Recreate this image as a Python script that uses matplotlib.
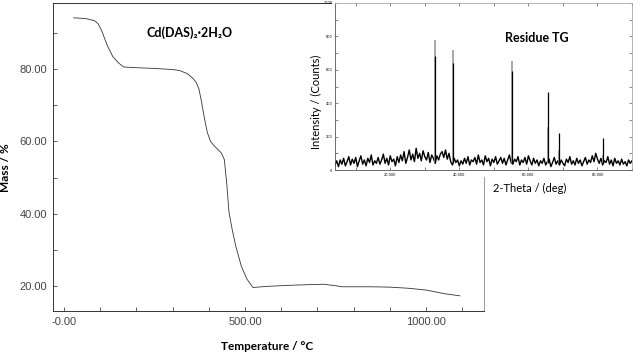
import numpy as np
import matplotlib
matplotlib.use("Agg")
import matplotlib.pyplot as plt
from matplotlib.patches import Rectangle
from matplotlib.ticker import MultipleLocator, FixedLocator

# TG curve
temp = [27, 60, 85, 95, 105, 120, 135, 150, 165, 200, 250, 300, 320, 340, 355, 365,
        373, 380, 388, 396, 405, 415, 425, 435, 443, 447, 450, 456, 465, 475, 490,
        505, 522, 560, 620, 680, 717, 750, 767, 850, 900, 950, 1000, 1050, 1093]
mass = [94.2, 94.0, 93.4, 92.5, 90.5, 86.5, 83.5, 81.8, 80.6, 80.4, 80.2, 79.9, 79.6,
        78.8, 77.6, 76.4, 74.5, 71.0, 66.5, 62.5, 60.0, 58.8, 57.8, 56.8, 55.0, 51.0,
        48.0, 40.3, 35.5, 30.9, 25.5, 22.0, 19.6, 19.9, 20.2, 20.4, 20.5, 20.1, 19.8,
        19.8, 19.7, 19.4, 18.9, 17.9, 17.3]

# XRD of the residue
theta = np.arange(4.0, 90.01, 0.5)
counts = [30, 55, 20, 60, 35, 70, 25, 50, 80, 30, 65, 40, 75,
          20, 55, 85, 35, 60, 25, 70, 45, 90, 30, 55, 40,
          75, 35, 60, 95, 40, 70, 30, 85, 50, 65, 25, 80,
          45, 90, 55, 110, 40, 75, 120, 60, 95, 50, 130, 70,
          100, 55, 115, 80, 60, 105, 45, 90,
          70, 40, 85, 60, 95, 110, 75, 120,
          65, 100, 50, 30, 70, 45, 60, 25,
          55, 35, 70, 40, 80, 30, 60, 50, 75, 35, 90, 45,
          60, 30, 85, 50, 70, 25, 65, 45, 80, 35, 55, 75,
          40, 70, 30, 60, 90, 45, 35, 65, 50, 80, 30, 60,
          45, 75, 35, 85, 55, 30, 70, 40, 60, 25, 55, 40,
          70, 30, 50, 65, 20, 45, 75, 35, 55, 30, 60, 40,
          25, 65, 45, 80, 35, 55, 30, 70, 40, 60, 25, 50,
          75, 35, 60, 45, 85, 50, 100, 65, 40, 70, 30, 55,
          45, 80, 35, 60, 25, 70, 40, 55, 30, 65, 35, 50,
          25, 60, 40, 55]
peak_pos = [33.0, 38.2, 55.2, 65.6, 69.0, 81.6]
peak_gray = [780, 720, 650, 260, 120, 90]
peak_black = [680, 640, 590, 468, 220, 190]

fig = plt.figure(figsize=(6.33, 3.6), dpi=100)

ax = fig.add_axes([53/633, 1-311/360, 431/633, 308/360])
ax.plot(temp, mass, color="#333333", lw=0.6)
ax.set_xlim(-30, 1160)
ax.set_ylim(13.1, 98.3)
ax.xaxis.set_major_locator(FixedLocator([0, 500, 1000]))
ax.set_xticklabels(["-0.00", "500.00", "1000.00"])
ax.xaxis.set_minor_locator(MultipleLocator(100))
ax.yaxis.set_major_locator(FixedLocator([20, 40, 60, 80]))
ax.set_yticklabels(["20.00", "40.00", "60.00", "80.00"])
ax.yaxis.set_minor_locator(MultipleLocator(10))
ax.tick_params(which="both", direction="in", length=3, width=0.6, color="#444444",
               labelsize=8, labelcolor="#444444", pad=4, labelfontfamily="Liberation Sans")
for s in ax.spines.values():
    s.set_linewidth(0.7)
    s.set_color("#333333")
ax.spines["right"].set_color("#999999")
ax.set_xlabel("Temperature / °C", family="Lato", weight="bold", fontsize=8.5)
ax.xaxis.set_label_coords((267-53)/431, -(341-311)/308)
ax.set_ylabel("Mass / %", family="Lato", weight="bold", fontsize=8.5)
ax.yaxis.set_label_coords(-(53-11)/431, 0.464)
ax.text(0.316, 0.903, "Cd(DAS)₂·2H₂O", transform=ax.transAxes, fontsize=9,
        family=["Lato", "Noto Sans", "DejaVu Sans"], weight="bold", ha="center", va="center")

# white cover under the inset picture
fig.add_artist(Rectangle((332/633, 1-177/360), 1-332/633, 177/360, transform=fig.transFigure,
                         facecolor="white", edgecolor="none", zorder=1))

ins = fig.add_axes([335/633, 1-170/360, 297/633, 167/360], zorder=2)
ins.plot(theta, counts, color="black", lw=1.0)
ins.vlines(peak_pos, 40, peak_gray, color="#999999", lw=1.2)
ins.vlines(peak_pos, 40, peak_black, color="black", lw=0.9)
ins.set_xlim(4, 90)
ins.set_ylim(0, 1000)
ins.set_xticks([20, 40, 60, 80])
ins.set_xticklabels(["20.000", "40.000", "60.000", "80.000"])
ins.xaxis.set_minor_locator(MultipleLocator(10))
ins.yaxis.set_major_locator(MultipleLocator(200))
ins.yaxis.set_minor_locator(MultipleLocator(100))
ins.tick_params(which="both", direction="in", length=2, width=0.5, labelsize=2.5,
                pad=2, top=True, right=True, color="#555555")
for s in ins.spines.values():
    s.set_linewidth(0.6)
    s.set_color("#555555")
ins.spines["top"].set_color("#aaaaaa")
ins.spines["right"].set_color("#aaaaaa")
ins.set_xlabel("2-Theta / (deg)", family="Lato", fontsize=8)
ins.xaxis.set_label_coords((530-335)/297, -(183-170)/167)
ins.set_ylabel("Intensity / (Counts)", family="Lato", fontsize=8)
ins.yaxis.set_label_coords(-(335-322)/297, 0.41)
ins.text(0.68, 0.79, "Residue TG", transform=ins.transAxes, family="Lato",
         weight="bold", fontsize=9, ha="center", va="center")

fig.savefig("out.png", dpi=100)
